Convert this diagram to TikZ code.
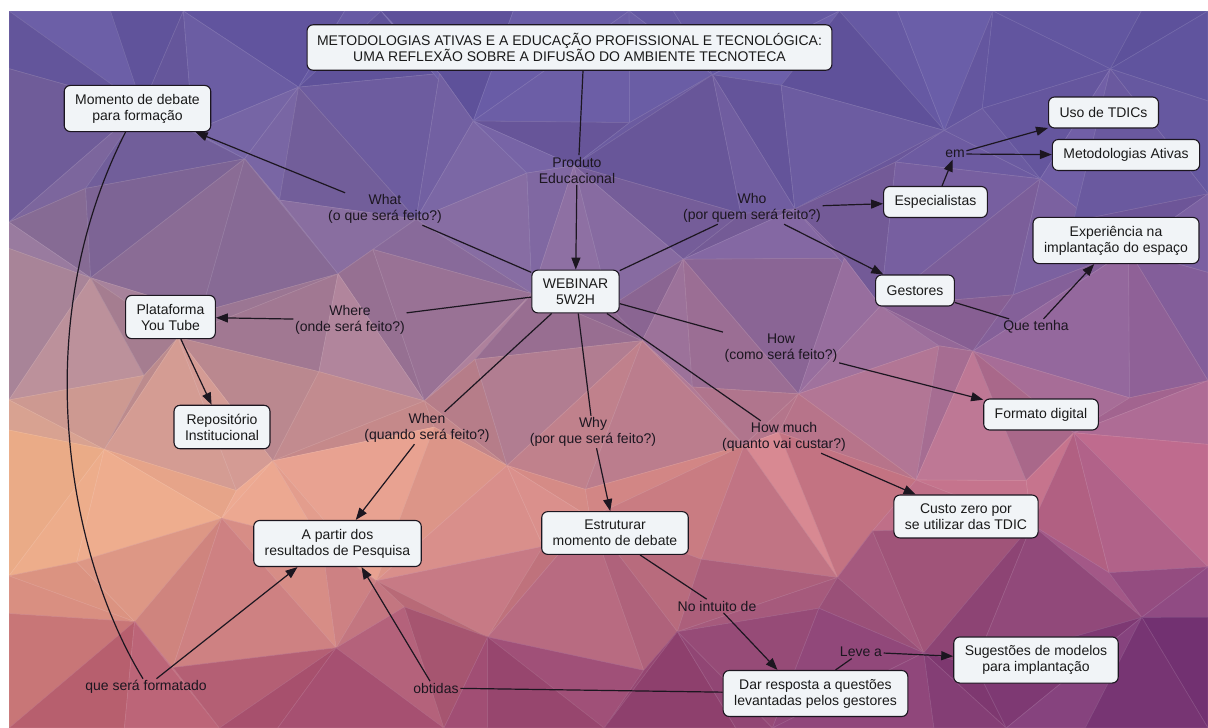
\documentclass[tikz,border=0pt]{standalone}
\usepackage{fontspec}
\setmainfont{Liberation Sans}
\usetikzlibrary{arrows.meta}

\definecolor{boxfill}{HTML}{F1F4F7}
\definecolor{ink}{HTML}{1C1620}
\definecolor{boxtext}{HTML}{1A1A1A}

% jittered lattice point (i,j) -> \px<tag>, \py<tag>
\newcommand\meshpoint[3]{%
  \pgfmathsetmacro\mpfx{(#1>0)*(#1<12)}%
  \pgfmathsetmacro\mpfy{(#2>0)*(#2<8)}%
  \pgfmathsetmacro\mpx{9+#1*99.917+\mpfx*36*sin(137.5*#1+251*#2+40)}%
  \pgfmathsetmacro\mpy{11+#2*89.625+\mpfy*32*cos(97.3*#1+173*#2+10)}%
  \expandafter\let\csname px#3\endcsname\mpx
  \expandafter\let\csname py#3\endcsname\mpy}

% gradient colour at (x,y): violet top, peach middle, plum bottom right
\newcommand\meshcolour[2]{%
  \pgfmathsetmacro\mcS{max(0,min(1,#1/1208))}%
  \pgfmathsetmacro\mcF{exp((1.6+0.8*\mcS)*ln(max(0.002,min(1,#2/480))))}%
  \pgfmathsetmacro\mcG{max(0,min(1,(#2-540+90*\mcS)/188))}%
  \pgfmathsetmacro\mcJ{(rnd-0.5)*16}%
  \pgfmathtruncatemacro\mcR{max(0,min(255,(100+\mcF*(138-40*\mcS))*(1-\mcG)+(186-66*\mcS)*\mcG+\mcJ))}%
  \pgfmathtruncatemacro\mcGr{max(0,min(255,(88+\mcF*(88-66*\mcS))*(1-\mcG)+(92-36*\mcS)*\mcG+\mcJ))}%
  \pgfmathtruncatemacro\mcB{max(0,min(255,(162+\mcF*(4*\mcS-24))*(1-\mcG)+(112+8*\mcS)*\mcG+\mcJ))}%
  \definecolor{facecol}{RGB}{\mcR,\mcGr,\mcB}}

% one flat-shaded triangle of the background mesh
\newcommand\facet[6]{%
  \pgfmathsetmacro\fcx{(#1+#3+#5)/3}%
  \pgfmathsetmacro\fcy{(#2+#4+#6)/3}%
  \meshcolour{\fcx}{\fcy}%
  \filldraw[fill=facecol, draw=facecol!88!white, line width=0.6pt, line join=round]
    (#1,#2) -- (#3,#4) -- (#5,#6) -- cycle;}

\begin{document}
\begin{tikzpicture}[x=1pt,y=-1pt,
  box/.style={draw=ink, line width=1.1pt, fill=boxfill, rounded corners=6pt,
    align=center, inner xsep=11pt, inner ysep=8.5pt, minimum height=31pt,
    text=boxtext, font=\fontsize{14}{16}\selectfont},
  lbl/.style={align=center, inner sep=1.5pt, text=ink,
    font=\fontsize{14}{16}\selectfont},
  conn/.style={draw=ink, line width=1.2pt},
  arr/.style={conn, -{Triangle[length=12pt,width=9pt]}}]

\useasboundingbox (0,0) rectangle (1208,728);
\fill[white] (0,0) rectangle (1208,728);

% low-poly background
\begin{scope}
  \clip (9,11) rectangle (1208,728);
  \pgfmathsetseed{7}
  \foreach \i in {0,...,11}{
    \foreach \j in {0,...,7}{
      \pgfmathtruncatemacro\ii{\i+1}%
      \pgfmathtruncatemacro\jj{\j+1}%
      \meshpoint{\i}{\j}{a}\meshpoint{\ii}{\j}{b}%
      \meshpoint{\i}{\jj}{c}\meshpoint{\ii}{\jj}{d}%
      \pgfmathtruncatemacro\cellpar{mod(\i+\j,2)}%
      \ifnum\cellpar=0
        \facet{\pxa}{\pya}{\pxb}{\pyb}{\pxd}{\pyd}%
        \facet{\pxa}{\pya}{\pxd}{\pyd}{\pxc}{\pyc}%
      \else
        \facet{\pxa}{\pya}{\pxb}{\pyb}{\pxc}{\pyc}%
        \facet{\pxb}{\pyb}{\pxd}{\pyd}{\pxc}{\pyc}%
      \fi
    }}
\end{scope}

% concepts
\node[box, inner xsep=10pt] (title) at (569.5,47.5)
  {METODOLOGIAS ATIVAS E A EDUCAÇÃO PROFISSIONAL E TECNOLÓGICA:\\UMA REFLEXÃO SOBRE A DIFUSÃO DO AMBIENTE TECNOTECA};
\node[box] (mom)   at (137.5,108.5) {Momento de debate\\para formação};
\node[box] (uso)   at (1103.5,112.5) {Uso de TDICs};
\node[box] (meto)  at (1126,155) {Metodologias Ativas};
\node[box] (esp)   at (935.5,202) {Especialistas};
\node[box] (exp)   at (1116,240.5) {Experiência na\\implantação do espaço};
\node[box] (web)   at (575.5,291.5) {WEBINAR\\5W2H};
\node[box] (gest)  at (915,290.5) {Gestores};
\node[box] (plat)  at (170.5,317) {Plataforma\\You Tube};
\node[box] (repo)  at (222,427) {Repositório\\Institucional};
\node[box] (form)  at (1041,414.5) {Formato digital};
\node[box] (custo) at (966,516.5) {Custo zero por\\se utilizar das TDIC};
\node[box] (apartir) at (337.5,543.5) {A partir dos\\resultados de Pesquisa};
\node[box] (estr)  at (615,533) {Estruturar\\momento de debate};
\node[box] (sug)   at (1036,660) {Sugestões de modelos\\para implantação};
\node[box] (dar)   at (815.5,693.5) {Dar resposta a questões\\levantadas pelos gestores};

% linking phrases
\node[lbl] (prod)  at (577,170) {Produto\\Educacional};
\node[lbl] (what)  at (385,209) {What\\(o que será feito?)};
\node[lbl] (who)   at (752,208) {Who\\(por quem será feito?)};
\node[lbl] (em)    at (955,154) {em};
\node[lbl] (where) at (350,320) {Where\\(onde será feito?)};
\node[lbl] (how)   at (781,348) {How\\(como será feito?)};
\node[lbl] (que)   at (1036,327) {Que tenha};
\node[lbl] (when)  at (427,428) {When\\(quando será feito?)};
\node[lbl] (why)   at (593,432) {Why\\(por que será feito?)};
\node[lbl] (howm)  at (784,437) {How much\\(quanto vai custar?)};
\node[lbl] (noint) at (717,606) {No intuito de};
\node[lbl] (leve)  at (861,652) {Leve a};
\node[lbl] (obt)   at (436,688) {obtidas};
\node[lbl] (qsf)   at (146,687) {que será formatado};

% connections
\draw[conn] ([xshift=13.5pt]title.south) -- ([xshift=2pt]prod.north);
\draw[arr]  (prod) -- (web);
\draw[conn] (web) -- (what);
\draw[arr]  (what) -- (mom);
\draw[conn] (web) -- (who);
\draw[arr]  (who) -- (esp);
\draw[arr]  (who) -- (gest);
\draw[arr]  (esp) -- (em);
\draw[arr]  (em) -- (uso);
\draw[arr]  (em) -- (meto);
\draw[conn] (gest) -- (que);
\draw[arr]  (que) -- (exp);
\draw[conn] (web) -- (where);
\draw[arr]  (where) -- (plat);
\draw[arr]  (plat) -- (repo);
\draw[conn] (web) -- (when);
\draw[arr]  (when) -- (apartir);
\draw[conn] (web) -- (why);
\draw[arr]  (why) -- (estr);
\draw[conn] (web) -- (how);
\draw[arr]  (how) -- (form);
\draw[conn] (web) -- (howm);
\draw[arr]  (howm) -- (custo);
\draw[conn] ([xshift=25pt]estr.south) -- (noint);
\draw[arr]  (noint) -- ([xshift=-38pt]dar.north);
\draw[conn] ([xshift=20pt]dar.north) -- (leve);
\draw[arr]  (leve) -- (sug);
\draw[conn] (dar) -- (obt);
\draw[arr]  ([xshift=-6pt]obt.north) -- ([xshift=24pt]apartir.south);
\draw[conn] ([xshift=-12pt]mom.south) .. controls (25,330) and (70,560) .. ([xshift=-3pt]qsf.north);
\draw[arr]  (qsf) -- ([xshift=-40pt]apartir.south);
\end{tikzpicture}
\end{document}
